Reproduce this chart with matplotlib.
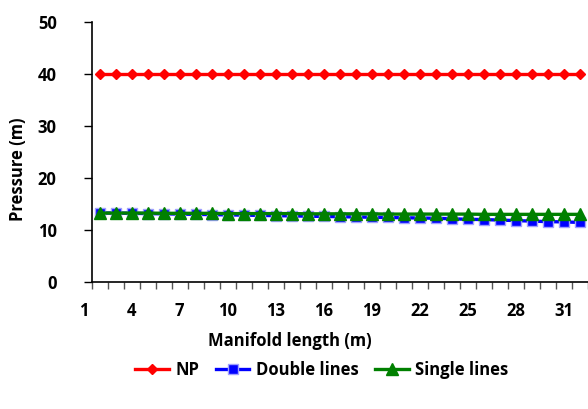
import matplotlib
matplotlib.use("Agg")
import matplotlib.pyplot as plt
import matplotlib.transforms as mtransforms

x_vals = list(range(2, 33))
np_vals = [40.0] * 31
double_vals = [13.2, 13.2, 13.15, 13.1, 13.05, 13.0, 12.95, 12.9, 12.85, 12.8, 12.75,
               12.7, 12.65, 12.6, 12.55, 12.5, 12.45, 12.4, 12.35, 12.3, 12.25, 12.2,
               12.1, 12.0, 11.95, 11.85, 11.75, 11.65, 11.55, 11.5, 11.4]
single_vals = [13.2, 13.2, 13.2, 13.2, 13.15, 13.15, 13.15, 13.15, 13.1, 13.1, 13.1,
               13.1, 13.1, 13.05, 13.05, 13.05, 13.05, 13.05, 13.0, 13.0, 13.0, 13.0,
               13.0, 13.0, 12.95, 12.95, 12.95, 12.95, 12.95, 12.95, 12.95]
x_tick_labels = [1, 4, 7, 10, 13, 16, 19, 22, 25, 28, 31]
y_ticks = [0, 10, 20, 30, 40, 50]

plt.rcParams['font.family'] = ['Open Sans', 'DejaVu Sans']
plt.rcParams['font.weight'] = 'bold'
FS = 12

W, H = 588, 409
fig = plt.figure(figsize=(W / 100, H / 100), dpi=100)
left, right, top, bottom = 91.5, 588, 21.7, 281.7
ax = fig.add_axes([left / W, (H - bottom) / H, (right - left) / W, (bottom - top) / H])

ax.plot(x_vals, np_vals, color='#ff0000', lw=2.4, marker='D', ms=5.5,
        mec='#ff0000', mfc='#ff0000', label='NP', zorder=3)
ax.plot(x_vals, double_vals, color='#0000ff', lw=2.4, marker='s', ms=6.5,
        mec='#a0a0ff', mew=1.0, mfc='#0000ff', label='Double lines', zorder=3)
ax.plot(x_vals, single_vals, color='#008000', lw=2.4, marker='^', ms=8,
        mec='#008000', mfc='#008000', label='Single lines', zorder=4)

ax.set_xlim(1.5, 32.5)
ax.set_ylim(0, 50)
ax.set_yticks(y_ticks)
ax.set_yticklabels([str(v) for v in y_ticks], fontsize=FS, fontweight='bold')
ax.set_xticks([i + 0.5 for i in range(1, 33)])
ax.set_xticklabels([])
ax.tick_params(axis='y', direction='out', length=6, width=1, pad=19)
ax.tick_params(axis='x', direction='out', length=5, width=1, color='#555555')

trans = mtransforms.blended_transform_factory(ax.transData, ax.transAxes)
for v in x_tick_labels:
    ax.text(v, -0.08, str(v), transform=trans, ha='center', va='top',
            fontsize=FS, fontweight='bold', clip_on=False)

for s in ['top', 'right']:
    ax.spines[s].set_visible(False)
ax.spines['left'].set_linewidth(1.2)
ax.spines['bottom'].set_linewidth(1.2)

fig.text(18 / W, 1 - 169 / H, 'Pressure (m)', rotation=90, ha='center', va='center',
         fontsize=FS, fontweight='bold')
fig.text(290 / W, 1 - 341 / H, 'Manifold length (m)', ha='center', va='center',
         fontsize=FS, fontweight='bold')

leg = fig.legend(loc='center', bbox_to_anchor=(322 / W, 1 - 370 / H), ncol=3,
                 frameon=False, prop={'size': FS, 'weight': 'bold'},
                 handlelength=2.0, columnspacing=1.0, handletextpad=0.4)

fig.savefig('out.png', dpi=100)
